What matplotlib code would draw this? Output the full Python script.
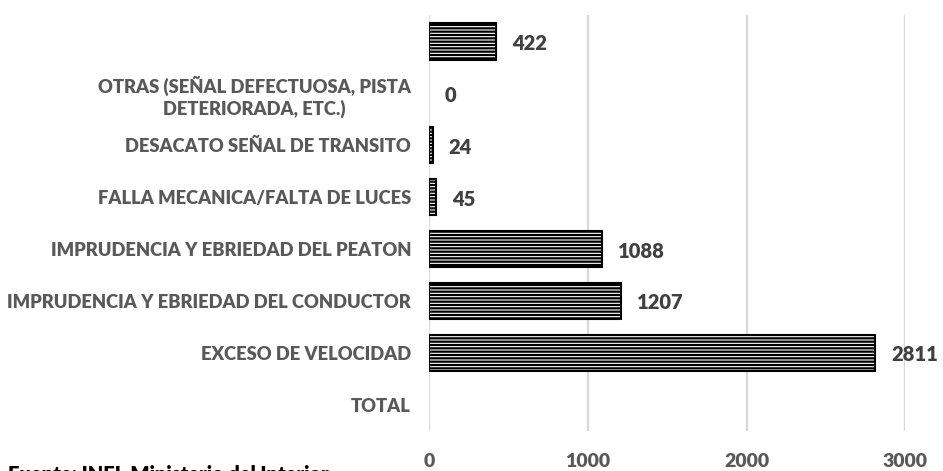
import matplotlib.pyplot as plt

# datos del gráfico (de abajo hacia arriba)
categorias = [
    "TOTAL",
    "EXCESO DE VELOCIDAD",
    "IMPRUDENCIA Y EBRIEDAD DEL CONDUCTOR",
    "IMPRUDENCIA Y EBRIEDAD DEL PEATON",
    "FALLA MECANICA/FALTA DE LUCES",
    "DESACATO SEÑAL DE TRANSITO",
    "OTRAS (SEÑAL DEFECTUOSA, PISTA\nDETERIORADA, ETC.)",
    "",
]
valores = [None, 2811, 1207, 1088, 45, 24, 0, 422]
ticks_x = [0, 1000, 2000, 3000]

plt.rcParams["font.family"] = ["Lato", "DejaVu Sans"]
plt.rcParams["hatch.linewidth"] = 1.6

fig = plt.figure(figsize=(9.43, 4.71), dpi=100)
ax = fig.add_axes([0.455, 0.085, 0.505, 0.883])

pos = list(range(len(categorias)))
for i, v in zip(pos, valores):
    if v is None:
        continue
    ax.barh(i, v, height=0.71, color="white",
            edgecolor="black" if v > 0 else "none",
            linewidth=1.5, hatch="-----")
    ax.annotate(str(v), (v, i), xytext=(16, -2), textcoords="offset pixels",
                va="center", ha="left", fontsize=14.5, fontweight="heavy",
                color="#404040")

ax.set_xlim(0, 3000)
ax.set_ylim(-0.5, len(categorias) - 0.5)
ax.set_yticks(pos)
ax.set_yticklabels(categorias, fontsize=13.2, fontweight="heavy",
                   color="#595959", multialignment="center", linespacing=1.3)
ax.set_xticks(ticks_x)
ax.set_xticklabels([str(t) for t in ticks_x], fontsize=14, fontweight="heavy",
                   color="#595959")
ax.tick_params(axis="both", length=0)
ax.tick_params(axis="y", pad=13)
ax.tick_params(axis="x", pad=16)
for s in ax.spines.values():
    s.set_visible(False)
ax.grid(axis="x", color="#d9d9d9", linewidth=1.6)
ax.set_axisbelow(True)

# fuente (cortada en el borde inferior, como en el original)
fig.text(0.008, 1 - 464 / 471, "Fuente: INEI, Ministerio del Interior",
         fontsize=14.5, fontweight="heavy", color="black", va="top", ha="left")

fig.savefig("out.png", dpi=100)
